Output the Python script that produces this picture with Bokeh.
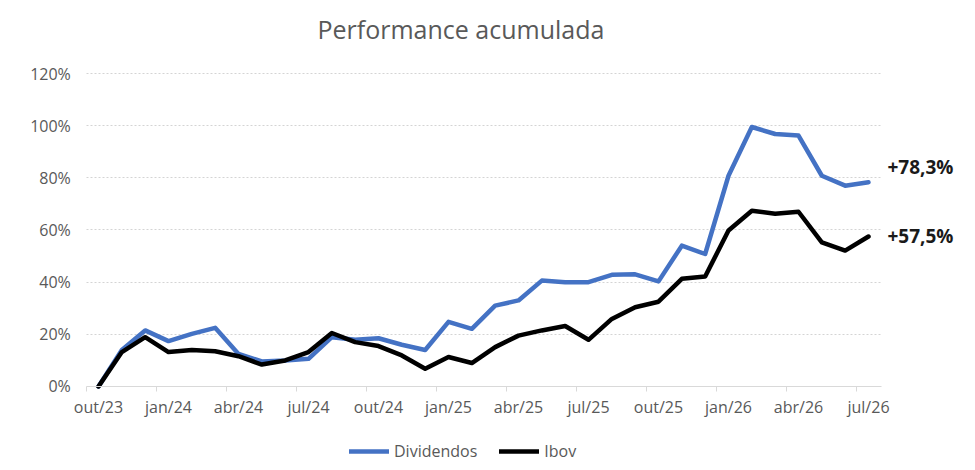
from bokeh.plotting import figure
from bokeh.models import (Legend, LegendItem, Label, FixedTicker, Title, Range1d,
                          LinearAxis)
from bokeh.embed import file_html
from bokeh.resources import INLINE

# ---- data ----
month_index = list(range(34))  # out/23 ... jul/26, monthly
tick_positions = [0, 3, 6, 9, 12, 15, 18, 21, 24, 27, 30, 33]
tick_labels = ["out/23", "jan/24", "abr/24", "jul/24", "out/24", "jan/25",
               "abr/25", "jul/25", "out/25", "jan/26", "abr/26", "jul/26"]
y_ticks = [0, 20, 40, 60, 80, 100, 120]

dividendos = [0, 14.0, 21.5, 17.4, 20.2, 22.5, 12.5, 9.6, 10.0, 10.6, 18.9,
              17.9, 18.5, 16.0, 14.0, 24.8, 22.1, 31.0, 33.0, 40.6, 40.0,
              40.0, 42.8, 43.0, 40.3, 54.0, 50.8, 80.8, 99.5, 96.8, 96.2,
              80.8, 77.0, 78.3]
ibov = [0, 13.2, 18.9, 13.2, 14.0, 13.5, 11.6, 8.4, 10.0, 13.2, 20.5, 17.0,
        15.5, 11.9, 6.8, 11.3, 9.0, 15.1, 19.5, 21.5, 23.2, 17.9, 25.9, 30.4,
        32.5, 41.3, 42.2, 59.8, 67.4, 66.2, 67.0, 55.3, 52.1, 57.5]

series_names = ["Dividendos", "Ibov"]
series_colors = ["#4472C4", "#000000"]

FONT = "Open Sans"
GRAY = "#595959"
AXIS_GRAY = "#d9d9d9"

# view window (plot area is the whole canvas below the title)
X_START, X_AXIS_START, X_AXIS_END, X_END = -4.2, -0.5, 33.55, 36.9
Y_START, Y_END = -29.14, 129.97

p = figure(width=959, height=462, output_backend="svg", toolbar_location=None,
           x_range=Range1d(X_START, X_END), y_range=Range1d(Y_START, Y_END),
           min_border_left=0, min_border_right=0, min_border_top=47,
           min_border_bottom=0)
p.outline_line_color = None
p.background_fill_color = "white"
p.border_fill_color = "white"

title = Title(text="Performance acumulada", align="left", offset=317,
              text_font=FONT, text_font_size="25px", text_font_style="normal",
              text_color=GRAY, standoff=4)
p.add_layout(title, "above")

# x axis drawn at y = 0 (labels centred on the months)
p.xaxis.fixed_location = 0
p.xaxis.bounds = (X_AXIS_START, X_AXIS_END)
p.xaxis.ticker = FixedTicker(ticks=tick_positions)
p.xaxis.major_label_overrides = {t: l for t, l in zip(tick_positions, tick_labels)}
p.xaxis.axis_line_color = AXIS_GRAY
p.xaxis.major_tick_line_color = None
p.xaxis.major_tick_out = 5
p.xaxis.major_tick_in = 0
p.xaxis.minor_tick_line_color = None
p.xaxis.major_label_standoff = 5
p.xaxis.major_label_text_font = FONT
p.xaxis.major_label_text_font_size = "16px"
p.xaxis.major_label_text_color = GRAY

# tick marks sit on the boundaries between months (Excel date axis style)
tick_marks = [t - 0.5 for t in tick_positions]
tick_axis = LinearAxis(fixed_location=0, bounds=(X_AXIS_START, X_AXIS_END),
                       ticker=FixedTicker(ticks=tick_marks),
                       major_label_overrides={t: "" for t in tick_marks},
                       axis_line_color=None, major_tick_line_color=AXIS_GRAY,
                       major_tick_out=5, major_tick_in=0,
                       minor_tick_line_color=None)
p.add_layout(tick_axis, "below")

# y axis drawn at the left edge of the plotting region
p.yaxis.fixed_location = X_AXIS_START
p.yaxis.bounds = (0, 120)
p.yaxis.ticker = FixedTicker(ticks=y_ticks)
p.yaxis.major_label_overrides = {v: f"{v}%" for v in y_ticks}
p.yaxis.axis_line_color = None
p.yaxis.major_tick_line_color = None
p.yaxis.major_tick_out = 0
p.yaxis.major_tick_in = 0
p.yaxis.minor_tick_line_color = None
p.yaxis.major_label_standoff = 16
p.yaxis.major_label_text_font = FONT
p.yaxis.major_label_text_font_size = "16px"
p.yaxis.major_label_text_color = GRAY

p.xgrid.grid_line_color = None
ygrid = p.ygrid[0]
ygrid.ticker = FixedTicker(ticks=y_ticks[1:])
try:
    ygrid.cross_bounds = (X_AXIS_START, X_AXIS_END)
    ygrid.grid_line_color = "#d4d4d4"
    ygrid.grid_line_dash = "2 2"
    ygrid.grid_line_width = 1
except AttributeError:
    ygrid.grid_line_color = None
    gv = y_ticks[1:]
    p.segment(x0=[X_AXIS_START] * len(gv), x1=[X_AXIS_END] * len(gv), y0=gv, y1=gv,
              line_color="#d4d4d4", line_dash="2 2", line_width=1, level="underlay")

r1 = p.line(month_index, dividendos, line_color=series_colors[0], line_width=4.5,
            line_join="round", line_cap="round")
r2 = p.line(month_index, ibov, line_color=series_colors[1], line_width=4.5,
            line_join="round", line_cap="round")

# end labels
for vals, yoff in ((dividendos, 15), (ibov, 1)):
    txt = "+" + f"{vals[-1]:.1f}".replace(".", ",") + "%"
    p.add_layout(Label(x=month_index[-1], y=vals[-1], text=txt, x_offset=19,
                       y_offset=yoff, text_font=FONT, text_font_size="19px",
                       text_font_style="bold", text_color="#1a1a1a",
                       text_baseline="middle", text_align="left"))

legend = Legend(items=[LegendItem(label=series_names[0], renderers=[r1]),
                       LegendItem(label=series_names[1], renderers=[r2])],
                orientation="horizontal", location=(349, 0),
                label_text_font=FONT, label_text_font_size="16px",
                label_text_color=GRAY, glyph_width=40, glyph_height=14,
                spacing=22, label_standoff=5, padding=0, margin=0,
                border_line_color=None, background_fill_alpha=0)
p.add_layout(legend, "center")

open("out.html", "w").write(file_html(p, INLINE))
